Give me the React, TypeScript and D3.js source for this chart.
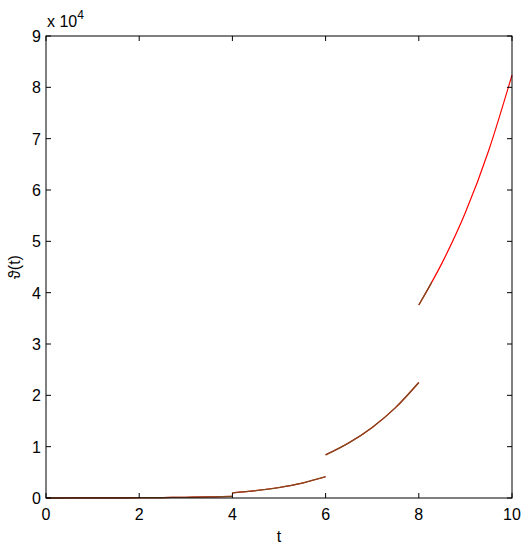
import React from "react";
import * as d3 from "d3";

// Piecewise segments of theta(t)
const seg1T = [0, 0.5, 1, 1.5, 2, 2.5, 3, 3.5, 4];
const seg1V = [0, 5, 15, 30, 55, 90, 140, 220, 330];
const seg2T = [4, 4.5, 5, 5.5, 6];
const seg2V = [1000, 1430, 2040, 2910, 4150];
const seg3T = [6, 6.5, 7, 7.5, 8];
const seg3V = [8400, 10750, 13750, 17600, 22500];
const seg4T = [8, 8.5, 9, 9.5, 10];
const seg4V = [37600, 45800, 55600, 67700, 82400];
const darkEndT = 8.28;

const xTicks = [0, 2, 4, 6, 8, 10];
const yTicks = [0, 1, 2, 3, 4, 5, 6, 7, 8, 9];

const W = 529, H = 550;
const L = 46, R = 512, T = 36, B = 498;

export default function App() {
  const x = d3.scaleLinear().domain([0, 10]).range([L, R]);
  const y = d3.scaleLinear().domain([0, 90000]).range([B, T]);
  const line = d3
    .line<[number, number]>()
    .x((d) => x(d[0]))
    .y((d) => y(d[1]))
    .curve(d3.curveMonotoneX);
  const segs = [
    [seg1T, seg1V],
    [seg2T, seg2V],
    [seg3T, seg3V],
    [seg4T, seg4V],
  ].map(([ts, vs]) => ts.map((t, i) => [t, vs[i]] as [number, number]));
  const font = "'Liberation Sans', Arial, Helvetica, sans-serif";
  const tl = 5;
  return (
    <svg width={W} height={H} style={{ position: "absolute", left: 0, top: 0 }}>
      <defs>
        <clipPath id="darkclip">
          <rect x={0} y={0} width={x(darkEndT)} height={H} />
        </clipPath>
      </defs>
      <rect x={0} y={0} width={W} height={H} fill="white" />
      {segs.map((s, i) => (
        <path key={"r" + i} d={line(s) || ""} fill="none" stroke="#ff0000" strokeWidth={1.2} />
      ))}
      <g clipPath="url(#darkclip)">
        {segs.map((s, i) => (
          <path key={"d" + i} d={line(s) || ""} fill="none" stroke="#7e4a1e" strokeWidth={1.3} />
        ))}
      </g>
      <rect x={L} y={T} width={R - L} height={B - T} fill="none" stroke="#000" strokeWidth={1} />
      {xTicks.map((t) => (
        <g key={"x" + t}>
          <line x1={x(t)} x2={x(t)} y1={B} y2={B - tl} stroke="#000" />
          <line x1={x(t)} x2={x(t)} y1={T} y2={T + tl} stroke="#000" />
          <text x={x(t)} y={520} fontSize={16} fontFamily={font} textAnchor="middle">
            {t}
          </text>
        </g>
      ))}
      {yTicks.map((v) => (
        <g key={"y" + v}>
          <line x1={L} x2={L + tl} y1={y(v * 10000)} y2={y(v * 10000)} stroke="#000" />
          <line x1={R} x2={R - tl} y1={y(v * 10000)} y2={y(v * 10000)} stroke="#000" />
          <text x={41} y={y(v * 10000) + 6} fontSize={16} fontFamily={font} textAnchor="end">
            {v}
          </text>
        </g>
      ))}
      <text x={47} y={27} fontSize={16} fontFamily={font}>
        x 10
        <tspan fontSize={12} dy={-8}>4</tspan>
      </text>
      <text x={x(5)} y={542} fontSize={16} fontFamily={font} textAnchor="middle">
        t
      </text>
      <text
        transform={`translate(20, ${(T + B) / 2}) rotate(-90)`}
        fontSize={16}
        fontFamily={font}
        textAnchor="middle"
      >
        ϑ(t)
      </text>
    </svg>
  );
}
